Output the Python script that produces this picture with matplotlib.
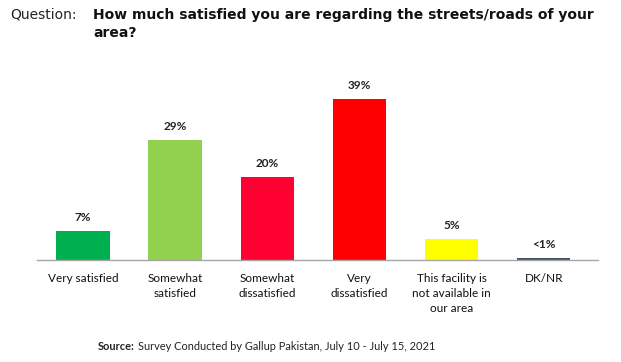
import numpy as np
import matplotlib.pyplot as plt

categories = [
    "Very satisfied",
    "Somewhat\nsatisfied",
    "Somewhat\ndissatisfied",
    "Very\ndissatisfied",
    "This facility is\nnot available in\nour area",
    "DK/NR",
]
values = [7, 29, 20, 39, 5, 0.4]
value_labels = ["7%", "29%", "20%", "39%", "5%", "<1%"]
colors = ["#00B050", "#92D050", "#FF0033", "#FF0000", "#FFFF00", "#44546A"]

plt.rcParams["font.family"] = ["Lato", "DejaVu Sans"]

fig = plt.figure(figsize=(6.21, 3.62), dpi=100)
ax = fig.add_axes([37 / 621, 102 / 362, 561 / 621, 180 / 362])

x = np.arange(len(categories))
ax.bar(x, values, width=0.58, color=colors)
for xi, v, lab in zip(x, values, value_labels):
    ax.text(xi, v + 2.0, lab, ha="center", va="bottom", fontsize=8.5,
            fontweight="bold", color="#222222")

ax.set_xlim(-0.5, 5.59)
ax.set_ylim(0, 43.6)
ax.set_yticks([])
ax.set_xticks(x)
ax.set_xticklabels(categories, fontsize=8.5, color="#111111", linespacing=1.5,
                   va="top")
ax.tick_params(axis="x", length=0, pad=9)
for s in ["top", "right", "left"]:
    ax.spines[s].set_visible(False)
ax.spines["bottom"].set_color("#A6A6A6")
ax.spines["bottom"].set_linewidth(1.0)

# question header
fig.text(10 / 621, 1 - 15 / 362, "Question:", fontsize=10, va="center",
         family=["DejaVu Sans"], color="#222222")
fig.text(93 / 621, 1 - 15 / 362,
         "How much satisfied you are regarding the streets/roads of your",
         fontsize=10.0, fontweight="bold", va="center", family=["DejaVu Sans"],
         color="#111111")
fig.text(93 / 621, 1 - 33 / 362, "area?", fontsize=10.0, fontweight="bold",
         va="center", family=["DejaVu Sans"], color="#111111")

# source line
src = fig.text(98 / 621, 1 - 347 / 362, "Source:", ha="left", va="center",
               fontsize=7.9, fontweight="bold", color="#222222")
r = fig.canvas.get_renderer()
w = src.get_window_extent(r).width
fig.text((98 + w + 3) / 621, 1 - 347 / 362,
         "Survey Conducted by Gallup Pakistan, July 10 - July 15, 2021",
         ha="left", va="center", fontsize=7.9, color="#222222")

fig.savefig("out.png", dpi=100)
